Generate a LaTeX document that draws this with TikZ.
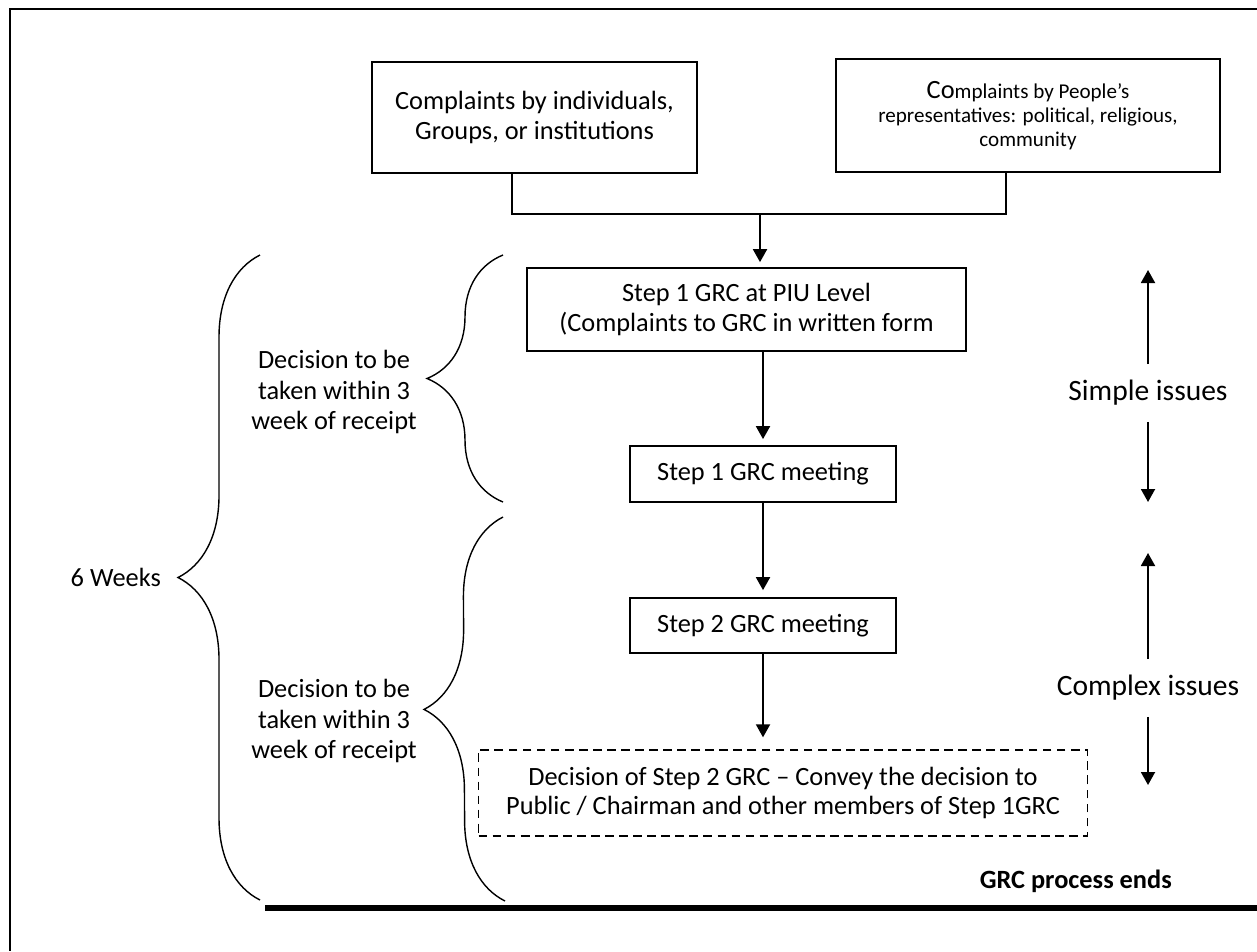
\documentclass[tikz,border=0pt]{standalone}
\usepackage{fontspec}
\setmainfont{Carlito}
\usetikzlibrary{arrows.meta,positioning,decorations.pathreplacing}

\tikzset{
  grcbox/.style={draw, line width=1pt, align=center, inner sep=0pt},
  grcarrow/.style={line width=1.1pt, -{Triangle[length=0.26cm,width=0.28cm]}},
  grcbrace/.style={line width=0.8pt, decorate, decoration={brace, amplitude=#1}},
  timetext/.style={align=center, font=\fontsize{15}{17.2}\selectfont},
  issuetext/.style={align=center, font=\fontsize{16.8}{19}\selectfont, minimum height=1.14cm, inner sep=0pt},
}

\begin{document}
\begin{tikzpicture}[x=0.02cm, y=-0.02cm, font=\fontsize{15}{16.8}\selectfont]
    \useasboundingbox (0,0) rectangle (1257,951);

    % frame
    \draw [line width=1.6pt] (1257,9) -- (10,9) -- (10,951);

    % sources of complaints
    \node[grcbox, minimum width=6.5cm, minimum height=2.22cm, font=\fontsize{15}{17.5}\selectfont] (indiv) at (534.5,117.5) {Complaints by individuals,\\Groups, or institutions};
    \node[grcbox, minimum width=7.68cm, minimum height=2.26cm, font=\fontsize{12}{13.8}\selectfont] (reps) at (1028,115.5) {{\fontsize{15}{13.8}\selectfont Co}mplaints by People's\\representatives: political, religious,\\community};

    \coordinate (joinleft) at (512,214);
    \coordinate (joinright) at (1006,214);
    \coordinate (joinmid) at (760,214);
    \draw [line width=1pt] (indiv.south -| joinleft) -- (joinleft) -- (joinright) -- (reps.south -| joinright);

    % steps
    \node[grcbox, minimum width=8.78cm, minimum height=1.66cm] (step1) at (746.5,309.5) {Step 1 GRC at PIU Level\\(Complaints to GRC in written form};
    \node[grcbox, minimum width=5.32cm, minimum height=1.12cm] (meet1) at (763,474) {Step 1 GRC meeting};
    \node[grcbox, minimum width=5.32cm, minimum height=1.1cm] (meet2) at (763,625.5) {Step 2 GRC meeting};
    \node[grcbox, dashed, line width=0.8pt, dash pattern=on 5pt off 3pt, minimum width=12.18cm, minimum height=1.72cm, font=\fontsize{15}{17}\selectfont] (final) at (783,793) {Decision of Step 2 GRC -- Convey the decision to\\Public / Chairman and other members of Step 1GRC};

    \draw [grcarrow, shorten >=0.1cm] (joinmid) -- (joinmid |- step1.north);
    \draw [grcarrow, shorten >=0.12cm] (step1.south -| meet1.north) -- (meet1.north);
    \draw [grcarrow, shorten >=0.14cm] (meet1.south) -- (meet2.north);
    \draw [grcarrow, shorten >=0.24cm] (meet2.south) -- (meet2.south |- final.north);

    % end of process
    \coordinate (endleft) at (265,908);
    \coordinate (endright) at (1257,908);
    \draw [line width=0.12cm] (endleft) -- (endright);
    \node[anchor=base east, font=\fontsize{15}{18}\selectfont\bfseries] (ends) at (1178,888) {GRC process ends};

    % time braces
    \draw [grcbrace=1.52cm] (503,502) -- (503,255);
    \draw [grcbrace=1.6cm] (505,901) -- (503,517);
    \draw [grcbrace=1.64cm] (260,900) -- (260,255);
    \node[timetext] (time1) at (334,392) {Decision to be\\taken within 3\\week of receipt};
    \node[timetext] (time2) at (334,721) {Decision to be\\taken within 3\\week of receipt};
    \node[timetext, anchor=east] (sixweeks) at (167,577) {6 Weeks};

    % issue arrows
    \node[issuetext] (simple) at (1148,393) {Simple issues};
    \coordinate (simpletop) at (1148,270);
    \coordinate (simplebot) at (1148,502);
    \draw [grcarrow] (simple.north) -- (simpletop);
    \draw [grcarrow] (simple.south) -- (simplebot);

    \node[issuetext] (complex) at (1148,688) {Complex issues};
    \coordinate (complextop) at (1148,553);
    \coordinate (complexbot) at (1148,785);
    \draw [grcarrow] (complex.north) -- (complextop);
    \draw [grcarrow] (complex.south) -- (complexbot);

\end{tikzpicture}
\end{document}
